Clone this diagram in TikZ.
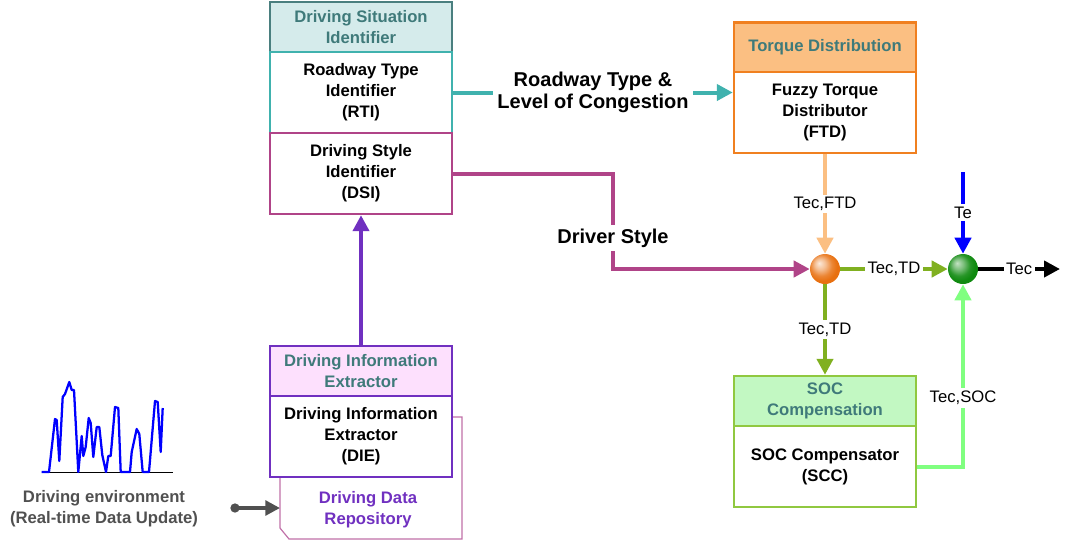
\documentclass[tikz,border=0pt]{standalone}
\usepackage{fontspec}
\setmainfont{Liberation Sans}
\usepackage{xcolor}
\definecolor{dshead}{HTML}{D5EBEB}
\definecolor{dsframe}{HTML}{4A7F7F}
\definecolor{headtext}{HTML}{3F7A7A}
\definecolor{rtiteal}{HTML}{40B2AE}
\definecolor{dsimag}{HTML}{B04488}
\definecolor{tdhead}{HTML}{FBBF82}
\definecolor{tdframe}{HTML}{F08020}
\definecolor{diehead}{HTML}{FDE0FD}
\definecolor{dieframe}{HTML}{7030C0}
\definecolor{repoframe}{HTML}{C070A8}
\definecolor{sochead}{HTML}{C2F8C2}
\definecolor{socframe}{HTML}{90C840}
\definecolor{tdgreen}{HTML}{80B020}
\definecolor{socgreen}{HTML}{80FF80}
\definecolor{envgray}{HTML}{505050}
\definecolor{balldark}{HTML}{E87010}
\definecolor{ballgreen}{HTML}{108A10}
\usetikzlibrary{arrows.meta, calc, shadings}
\pgfdeclareradialshading{orangeball}{\pgfqpoint{-10bp}{10bp}}{%
  color(0bp)=(balldark!15!white); color(9bp)=(balldark!45!white);
  color(18bp)=(balldark!85!white); color(25bp)=(balldark); color(50bp)=(balldark)}
\pgfdeclareradialshading{greenball}{\pgfqpoint{-10bp}{10bp}}{%
  color(0bp)=(ballgreen!25!white); color(9bp)=(ballgreen!55!white);
  color(18bp)=(ballgreen!90!white); color(25bp)=(ballgreen); color(50bp)=(ballgreen)}

\begin{document}
\begin{tikzpicture}[
    x=0.75pt, y=-0.75pt,
    every node/.style={font=\fontsize{12.5}{15.75}\selectfont},
    block/.style={rectangle, minimum width=136.5pt, inner sep=0pt,
                  align=center, line width=1.8pt},
    head/.style={block, minimum height=37.5pt, text=headtext,
                 font=\fontsize{12.5}{15.75}\selectfont\bfseries},
    body/.style={block, minimum height=60.75pt, fill=white,
                 font=\fontsize{12.5}{15.75}\selectfont\bfseries},
    mix/.style={circle, minimum size=22.5pt, inner sep=0pt},
    sig/.style={line width=3pt, -{Triangle[length=12pt,width=12pt]}},
    lab/.style={fill=white, text=black, inner sep=2pt},
    biglab/.style={fill=white, text=black, inner sep=3pt, align=center,
                   font=\fontsize{15}{17}\selectfont\bfseries},
]

\useasboundingbox (0,0) rectangle (1067,544);

% ---- Driving situation identifier ----
\node[head, draw=dsframe, fill=dshead] (dsihead) at (361,27) {Driving Situation\\Identifier};
\node[body, draw=rtiteal] (rti) at (361,92.5) {Roadway Type\\Identifier\\(RTI)};
\node[body, draw=dsimag] (dsi) at (361,173.5) {Driving Style\\Identifier\\(DSI)};

% ---- Torque distribution ----
\node[head, draw=tdframe, fill=tdhead] (tdhead) at (825,47.5) {Torque Distribution};
\node[body, draw=tdframe] (ftd) at (825,112.5) {Fuzzy Torque\\Distributor\\(FTD)};

% ---- Repository (behind the extractor) ----
\draw[repoframe, line width=0.9pt] (280,417) -- (462,417) -- (462,539)
      -- (289,539) -- (280,528) -- cycle;
\node[font=\fontsize{12.5}{15.75}\selectfont\bfseries, text=dieframe, align=center]
      (repo) at (368,510) {Driving Data\\Repository};

% ---- Driving information extractor ----
\node[head, draw=dieframe, fill=diehead] (diehead) at (361,371) {Driving Information\\Extractor};
\node[body, draw=dieframe] (die) at (361,436.5) {Driving Information\\Extractor\\(DIE)};

% ---- SOC compensation ----
\node[head, draw=socframe, fill=sochead] (sochead) at (825,401) {SOC\\Compensation};
\node[body, draw=socframe] (scc) at (825,466.5) {SOC Compensator\\(SCC)};

% ---- Summing points ----
\node[mix, shading=orangeball] (mixa) at (825,269) {};
\node[mix, shading=greenball] (mixb) at (963,269) {};

% ---- Driving environment ----
\draw[black, line width=0.6pt] (41.7,472) -- (172.7,472);
\draw[blue, line width=1.7pt, line join=round] plot coordinates {
    (41.7,472) (49,472) (55,419) (56.7,420) (59.3,461) (62.7,397) (65,394)
    (69.3,382) (71.7,390) (74,390) (78.3,472) (81.7,436) (83.3,456) (85.7,447)
    (88.7,418) (90.7,423) (93.3,457) (96.7,427) (99.3,427) (102.3,455) (106,472)
    (108.3,456) (110.7,456) (115,407) (118.3,408) (120.7,472) (130,472)
    (131.7,452) (136.7,429) (139.3,434) (142.7,472) (149,472) (155,401)
    (157.7,402) (160.7,452) (162.7,408)};
\node[text=envgray, align=center, font=\fontsize{12.5}{15.75}\selectfont\bfseries]
      (env) at (104,509) {Driving environment\\(Real-time Data Update)};

% ---- Connectors ----
\coordinate (envout) at (235,508);
\coordinate (repoin) at (280,508);
\fill[envgray] (envout) circle (3.5pt);
\draw[envgray, line width=3pt, -{Triangle[length=11pt,width=11pt]}] (envout) -- (repoin);

\draw[sig, dieframe] (diehead.north) -- (dsi.south);

\draw[sig, rtiteal] (rti.east) -- node[biglab] {Roadway Type \&\\Level of Congestion}
      (rti.east -| ftd.west);

\coordinate (dsbend) at (613,238);
\draw[sig, dsimag] (dsi.east) -| (dsbend) |- (mixa.west);
\node[biglab] at (dsbend) {Driver Style};

\draw[sig, tdhead] (ftd.south) -- node[lab] {Tec,FTD} (mixa.north);
\draw[sig, tdgreen] (mixa.east) -- node[lab] {Tec,TD} (mixb.west);
\draw[sig, tdgreen] (mixa.south) -- node[lab, pos=0.5] {Tec,TD} (sochead.north);

\coordinate (tein) at (963,172);
\draw[sig, blue] (tein) -- node[lab] {Te} (mixb.north);

\coordinate (socbend) at (963,398);
\draw[sig, socgreen] (scc.east) -| (mixb.south);
\node[lab] at (socbend) {Tec,SOC};

\coordinate (tecout) at (1060,269);
\draw[sig, black] (mixb.east) -- node[lab] {Tec} (tecout);

\end{tikzpicture}
\end{document}
